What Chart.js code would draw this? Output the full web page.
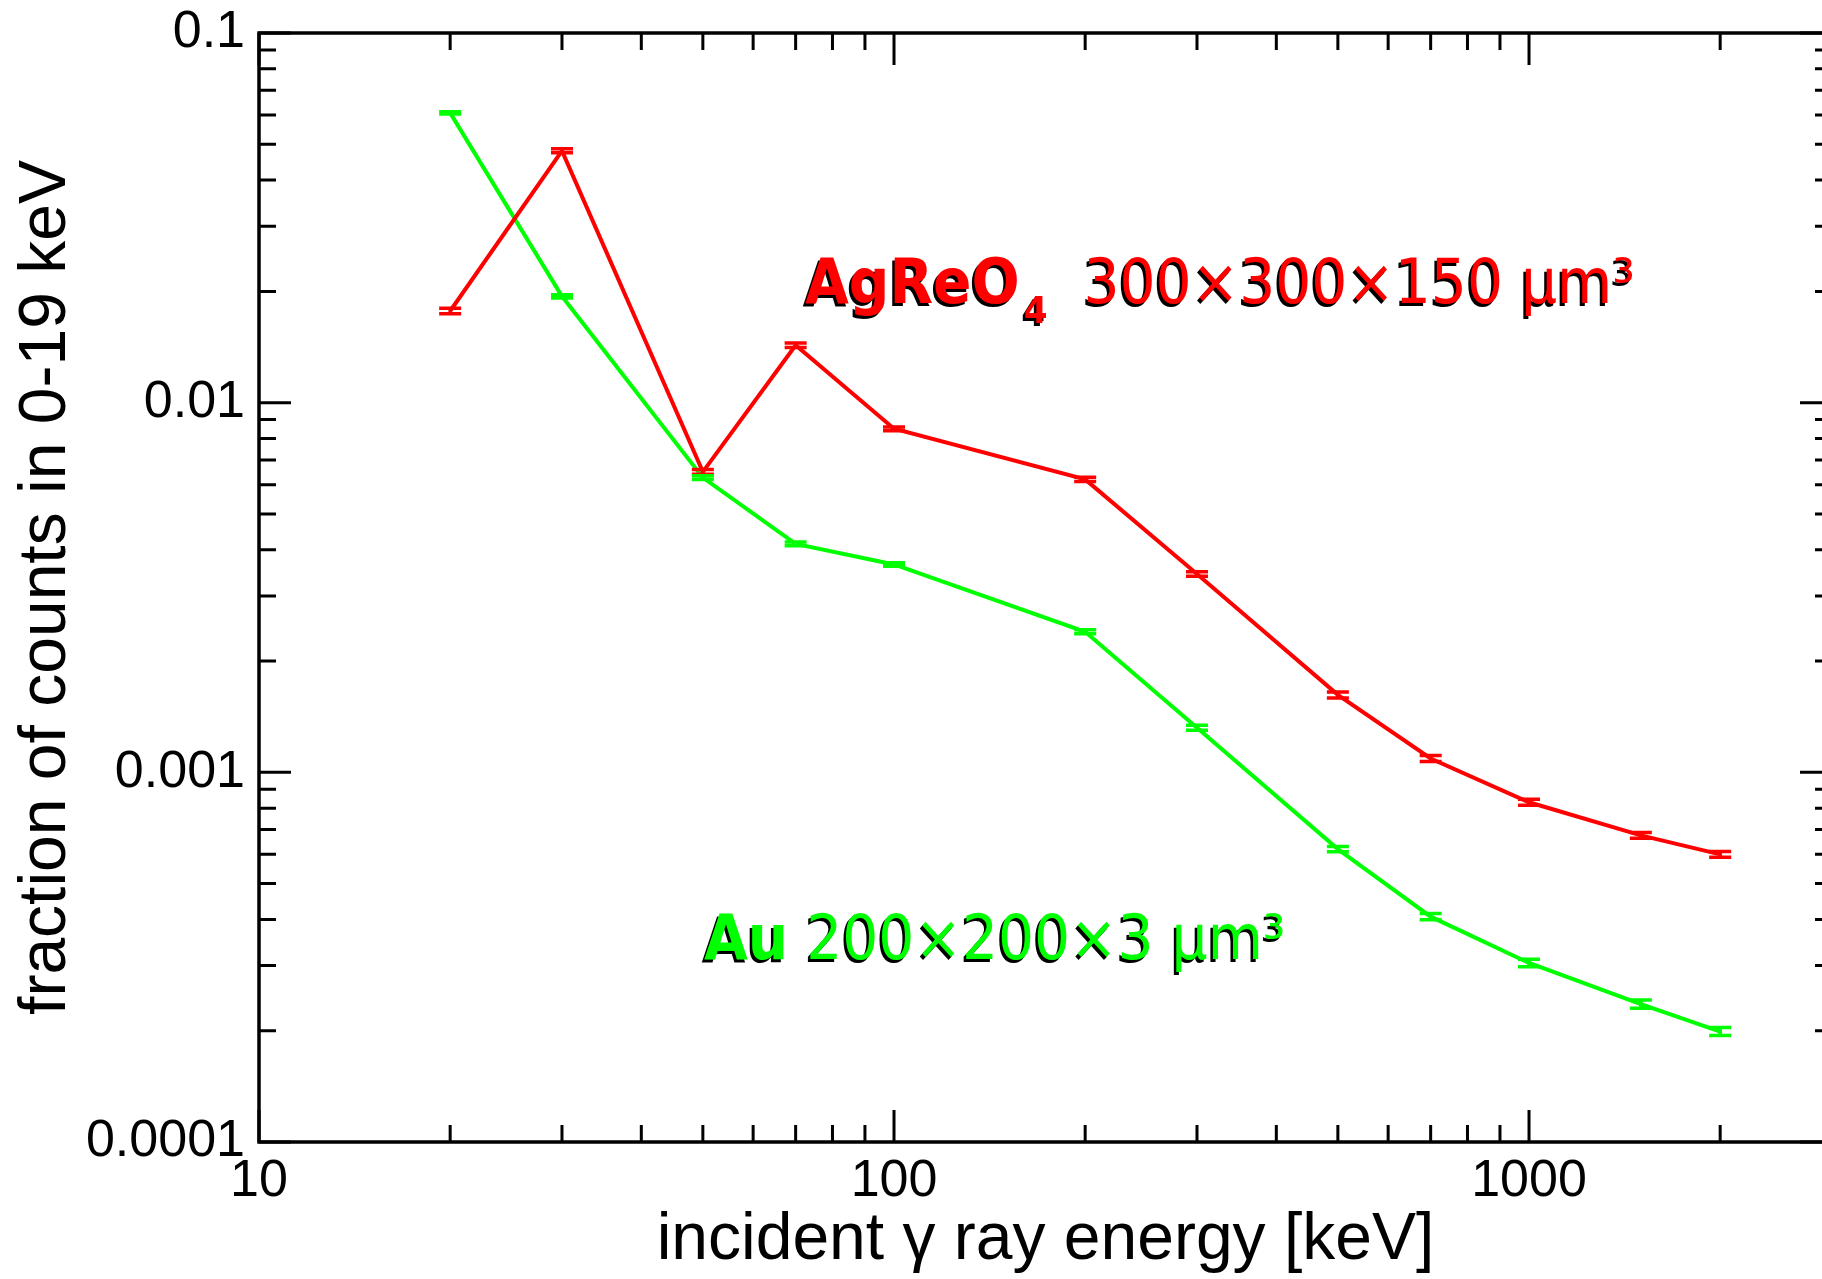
<!DOCTYPE html>
<html>
<head>
<meta charset="utf-8">
<script src="https://cdn.jsdelivr.net/npm/chart.js@4.4.1/dist/chart.umd.min.js"></script>
<style>
  html, body { margin: 0; padding: 0; background: #fff; overflow: hidden; }
  #wrap { width: 1842px; height: 1279px; }
</style>
</head>
<body>
<div id="wrap"><canvas id="chart"></canvas></div>
<script>
// incident gamma energies [keV]
const energies = [20, 30, 50, 70, 100, 200, 300, 500, 700, 1000, 1500, 2000];

// AgReO4 300x300x150 um^3 (red)
const agreoFraction = [0.0177, 0.048, 0.0065, 0.0143, 0.0085, 0.0062, 0.00344, 0.00162, 0.00109, 0.00083, 0.000675, 0.0006];
const agreoError = [0.0003, 0.0006, 0.0001, 0.0002, 0.0001, 0.00008, 0.00005, 0.00003, 0.00002, 0.000015, 0.000012, 0.000011];

// Au 200x200x3 um^3 (green)
const auFraction = [0.0608, 0.0194, 0.00627, 0.00415, 0.00365, 0.0024, 0.00132, 0.00062, 0.000407, 0.000305, 0.000236, 0.000199];
const auError = [0.0004, 0.0002, 0.00007, 0.00005, 0.00004, 0.00003, 0.00002, 0.00001, 0.000008, 0.000007, 0.000006, 0.000005];

const xTickLabels = ['10', '100', '1000'];
const yTickLabels = ['0.0001', '0.001', '0.01', '0.1'];

const RED = '#ff0000';
const GREEN = '#00ff00';

function isDecade(v) {
  const l = Math.log10(v);
  return Math.abs(l - Math.round(l)) < 1e-9;
}

// 1..9 x each decade, up to max
function logTicks(decades, max) {
  const out = [];
  decades.forEach(d => {
    for (let m = 1; m <= 9; m++) {
      const v = d * m;
      if (v <= max * 1.0000001) out.push({ value: m === 1 ? d : v });
    }
  });
  return out;
}

const frameTicks = {
  id: 'frameTicks',
  afterDatasetsDraw(chart) {
    const { ctx, chartArea: a, scales: { x, y } } = chart;
    ctx.save();
    ctx.strokeStyle = '#000';
    ctx.lineWidth = 3;
    ctx.beginPath();
    x.ticks.forEach(t => {
      const px = x.getPixelForValue(t.value);
      const len = isDecade(t.value) ? 32 : 17;
      ctx.moveTo(px, a.bottom); ctx.lineTo(px, a.bottom - len);
      ctx.moveTo(px, a.top); ctx.lineTo(px, a.top + len);
    });
    y.ticks.forEach(t => {
      const py = y.getPixelForValue(t.value);
      const len = isDecade(t.value) ? 32 : 17;
      ctx.moveTo(a.left, py); ctx.lineTo(a.left + len, py);
      ctx.moveTo(a.right, py); ctx.lineTo(a.right - len, py);
    });
    ctx.stroke();
    ctx.lineWidth = 3.5;
    ctx.strokeRect(a.left, a.top, a.right - a.left, a.bottom - a.top);
    ctx.restore();
  }
};

const errorBars = {
  id: 'errorBars',
  afterDatasetsDraw(chart) {
    const { ctx, scales: { x, y } } = chart;
    chart.data.datasets.forEach(ds => {
      ctx.save();
      ctx.strokeStyle = ds.borderColor;
      ctx.lineWidth = 3.5;
      ctx.beginPath();
      ds.data.forEach((p, i) => {
        const px = x.getPixelForValue(p.x);
        const hi = y.getPixelForValue(p.y + ds.errors[i]);
        const lo = y.getPixelForValue(p.y - ds.errors[i]);
        ctx.moveTo(px, hi); ctx.lineTo(px, lo);
        ctx.moveTo(px - 11, hi); ctx.lineTo(px + 11, hi);
        ctx.moveTo(px - 11, lo); ctx.lineTo(px + 11, lo);
      });
      ctx.stroke();
      ctx.restore();
    });
  }
};

const FAM = '"DejaVu Sans Condensed", "DejaVu Sans", sans-serif';

function drawRuns(ctx, x, y, color, runs) {
  ctx.fillStyle = color;
  runs.forEach(r => {
    ctx.font = r.font;
    ctx.fillText(r.text, x, y + (r.dy || 0));
    x += ctx.measureText(r.text).width + (r.gap || 0);
  });
}

const labels = {
  id: 'labels',
  afterDraw(chart) {
    const ctx = chart.ctx;
    ctx.save();
    ctx.textBaseline = 'alphabetic';
    ctx.textAlign = 'left';
    ctx.shadowColor = '#000';
    ctx.shadowOffsetX = -2.5;
    ctx.shadowOffsetY = 2.5;
    ctx.shadowBlur = 0;
    drawRuns(ctx, 805, 303, RED, [
      { text: 'AgReO', font: 'bold 63px ' + FAM, gap: 4 },
      { text: '4', font: 'bold 38px ' + FAM, dy: 20 },
      { text: '  300×300×150 µm³', font: '63px ' + FAM }
    ]);
    drawRuns(ctx, 704, 959, GREEN, [
      { text: 'Au', font: 'bold 63px ' + FAM },
      { text: ' 200×200×3 µm³', font: '63px ' + FAM }
    ]);
    ctx.restore();
  }
};

const tickFont = { family: '"Liberation Sans", Arial, sans-serif', size: 52 };
const titleFont = { family: '"Liberation Sans", Arial, sans-serif', size: 66, lineHeight: 1 };

new Chart(document.getElementById('chart'), {
  type: 'line',
  data: {
    datasets: [
      {
        label: 'AgReO4',
        data: energies.map((e, i) => ({ x: e, y: agreoFraction[i] })),
        errors: agreoError,
        borderColor: RED,
        borderWidth: 4,
        pointRadius: 0,
        tension: 0,
        fill: false
      },
      {
        label: 'Au',
        data: energies.map((e, i) => ({ x: e, y: auFraction[i] })),
        errors: auError,
        borderColor: GREEN,
        borderWidth: 4,
        pointRadius: 0,
        tension: 0,
        fill: false
      }
    ]
  },
  options: {
    responsive: true,
    maintainAspectRatio: false,
    animation: false,
    layout: { padding: { top: 33, right: 10, left: 0, bottom: 0 } },
    plugins: { legend: { display: false }, tooltip: { enabled: false } },
    scales: {
      x: {
        type: 'logarithmic',
        min: 10,
        max: 3000,
        afterBuildTicks: s => { s.ticks = logTicks(xTickLabels.map(Number), 3000); },
        afterFit: s => { s.height = 137; s.paddingLeft = 0; s.paddingRight = 0; },
        grid: { display: false, drawTicks: false },
        border: { display: false },
        ticks: {
          autoSkip: false,
          maxRotation: 0,
          padding: 8,
          color: '#000',
          font: tickFont,
          callback: v => (xTickLabels.includes(String(v)) ? String(v) : '')
        },
        title: {
          display: true,
          text: 'incident γ ray energy [keV]',
          color: '#000',
          font: titleFont,
          padding: { top: 0, bottom: 5 }
        }
      },
      y: {
        type: 'logarithmic',
        min: 0.0001,
        max: 0.1,
        afterBuildTicks: s => { s.ticks = logTicks(yTickLabels.map(Number), 0.1); },
        afterFit: s => { s.width = 259; s.paddingTop = 0; s.paddingBottom = 0; },
        grid: { display: false, drawTicks: false },
        border: { display: false },
        ticks: {
          autoSkip: false,
          padding: 14,
          color: '#000',
          font: tickFont,
          callback: v => (yTickLabels.includes(String(v)) ? String(v) : '')
        },
        title: {
          display: true,
          text: 'fraction of counts in 0-19 keV',
          color: '#000',
          font: titleFont,
          padding: { top: 14, bottom: 0 }
        }
      }
    }
  },
  plugins: [frameTicks, errorBars, labels]
});
</script>
</body>
</html>
